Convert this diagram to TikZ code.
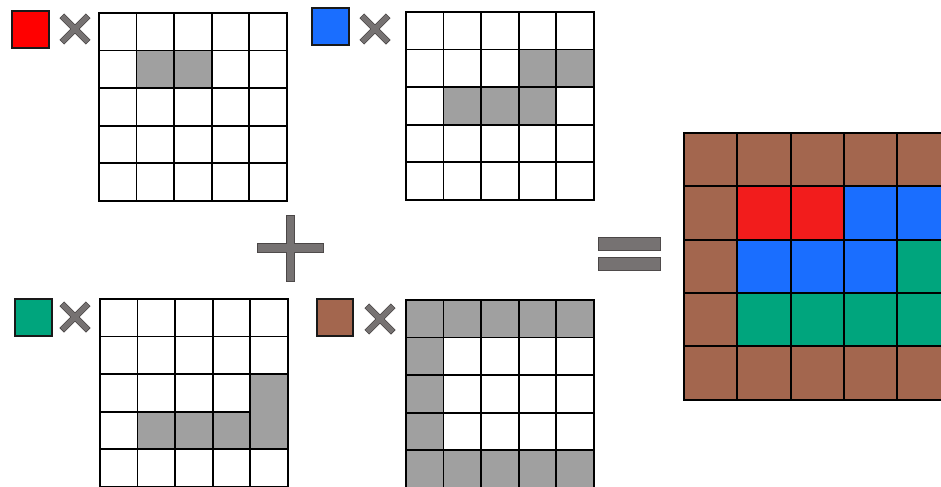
\documentclass[tikz,border=0pt]{standalone}
\usetikzlibrary{matrix}

\definecolor{swred}{HTML}{FF0000}
\definecolor{mixred}{HTML}{F21C1C}
\definecolor{mixblue}{HTML}{1A6EFF}
\definecolor{mixgreen}{HTML}{00A57D}
\definecolor{mixbrown}{HTML}{A3664E}
\definecolor{cellgray}{HTML}{A0A0A0}
\definecolor{signgray}{HTML}{767272}
\definecolor{signedge}{HTML}{4A4646}

\tikzset{
  maskgrid/.style={matrix of nodes, nodes in empty cells, ampersand replacement=\&,
    anchor=north west, inner sep=0pt, outer sep=0pt, row sep=-1.4pt, column sep=-1.4pt,
    nodes={draw=black, line width=1.4pt, fill=white, minimum size=28.2pt, inner sep=0pt, outer sep=0pt}},
  mixgrid/.style={maskgrid, nodes={minimum size=40pt}},
  grayc/.style={fill=cellgray},
  mred/.style={fill=mixred},
  mblue/.style={fill=mixblue},
  mgreen/.style={fill=mixgreen},
  mbrown/.style={fill=mixbrown},
  swatch/.style={draw=black!90, line width=1.4pt, minimum size=27.5pt, inner sep=0pt},
  signshape/.style={fill=signgray, preaction={draw=signedge, line width=1.1pt}}
}

\begin{document}
\begin{tikzpicture}[x=0.75pt, y=-0.75pt]
    \useasboundingbox (0,0) rectangle (941,486);

    \node[swatch, fill=swred] (swR) at (30.5,29.5) {};
    \node[swatch, fill=mixblue] (swB) at (330.5,26.5) {};
    \node[swatch, fill=mixgreen] (swG) at (33.5,317.5) {};
    \node[swatch, fill=mixbrown] (swN) at (335,317.5) {};

    \path[signshape, shift={(75,29)}, rotate=45] (-18,-2.6) rectangle (18,2.6) (-2.6,-18) rectangle (2.6,18);
    \path[signshape, shift={(375,29)}, rotate=45] (-18,-2.6) rectangle (18,2.6) (-2.6,-18) rectangle (2.6,18);
    \path[signshape, shift={(75,317)}, rotate=45] (-18,-2.6) rectangle (18,2.6) (-2.6,-18) rectangle (2.6,18);
    \path[signshape, shift={(380,319)}, rotate=45] (-18,-2.6) rectangle (18,2.6) (-2.6,-18) rectangle (2.6,18);

    \matrix (gridR) [maskgrid] at (98,12) {
      {} \& {} \& {} \& {} \& {} \\
      {} \& |[grayc]| \& |[grayc]| \& {} \& {} \\
      {} \& {} \& {} \& {} \& {} \\
      {} \& {} \& {} \& {} \& {} \\
      {} \& {} \& {} \& {} \& {} \\
    };
    \matrix (gridB) [maskgrid] at (405,11) {
      {} \& {} \& {} \& {} \& {} \\
      {} \& {} \& {} \& |[grayc]| \& |[grayc]| \\
      {} \& |[grayc]| \& |[grayc]| \& |[grayc]| \& {} \\
      {} \& {} \& {} \& {} \& {} \\
      {} \& {} \& {} \& {} \& {} \\
    };
    \matrix (gridG) [maskgrid] at (99,298) {
      {} \& {} \& {} \& {} \& {} \\
      {} \& {} \& {} \& {} \& {} \\
      {} \& {} \& {} \& {} \& |[grayc]| \\
      {} \& |[grayc]| \& |[grayc]| \& |[grayc]| \& |[grayc]| \\
      {} \& {} \& {} \& {} \& {} \\
    };
    \draw[line width=1.4pt, fill=cellgray] (gridG-3-5.north west) rectangle (gridG-4-5.south east);
    \matrix (gridN) [maskgrid] at (405,299) {
      |[grayc]| \& |[grayc]| \& |[grayc]| \& |[grayc]| \& |[grayc]| \\
      |[grayc]| \& {} \& {} \& {} \& {} \\
      |[grayc]| \& {} \& {} \& {} \& {} \\
      |[grayc]| \& {} \& {} \& {} \& {} \\
      |[grayc]| \& |[grayc]| \& |[grayc]| \& |[grayc]| \& |[grayc]| \\
    };

    \path[signshape] (258,244) rectangle (323,252) (287,216) rectangle (294,281);
    \path[signshape] (599,238) rectangle (660,250) (599,258) rectangle (660,270);

    \matrix (mix) [mixgrid] at (683,132) {
      |[mbrown]| \& |[mbrown]| \& |[mbrown]| \& |[mbrown]| \& |[mbrown]| \\
      |[mbrown]| \& |[mred]| \& |[mred]| \& |[mblue]| \& |[mblue]| \\
      |[mbrown]| \& |[mblue]| \& |[mblue]| \& |[mblue]| \& |[mgreen]| \\
      |[mbrown]| \& |[mgreen]| \& |[mgreen]| \& |[mgreen]| \& |[mgreen]| \\
      |[mbrown]| \& |[mbrown]| \& |[mbrown]| \& |[mbrown]| \& |[mbrown]| \\
    };
\end{tikzpicture}
\end{document}
